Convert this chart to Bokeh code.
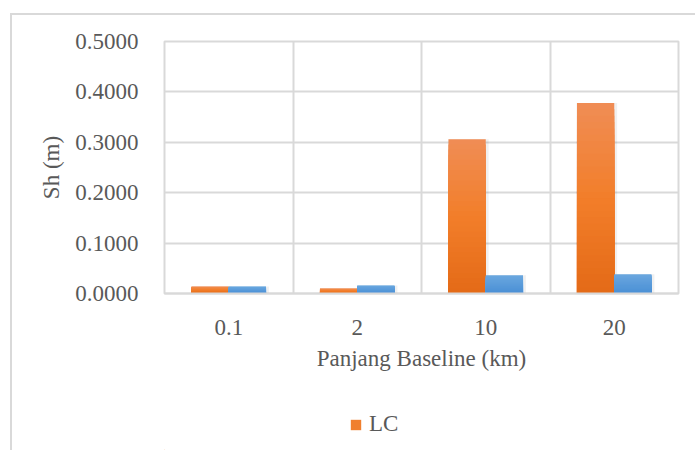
from bokeh.plotting import figure
from bokeh.layouts import column
from bokeh.models import (ColumnDataSource, FixedTicker, Legend, LegendItem,
                          NumeralTickFormatter)
from bokeh.embed import file_html
from bokeh.resources import INLINE

# ---- data ----
categories = ["0.1", "2", "10", "20"]
lc_values = [0.014, 0.010, 0.306, 0.378]
other_values = [0.014, 0.016, 0.036, 0.038]
y_ticks = [0.0, 0.1, 0.2, 0.3, 0.4, 0.5]
series_name = "LC"

FONT = "Liberation Serif"
TXT = "#595959"
GRID = "#d9d9d9"
FS = "23px"

p = figure(frame_width=512, frame_height=250, output_backend="svg", toolbar_location=None,
           x_range=(0, 4), y_range=(0, 0.5),
           min_border_left=152, min_border_right=19, min_border_top=26,
           min_border_bottom=100)
p.margin = (13, 0, 0, 10)
p.styles = {"border-left": "2px solid #d9d9d9", "border-top": "2px solid #d9d9d9"}
p.background_fill_color = "white"
p.border_fill_color = "white"
p.outline_line_color = GRID
p.outline_line_width = 2

xs = [i + 0.5 for i in range(len(categories))]

def hex_to_rgb(h):
    h = h.lstrip("#")
    return tuple(int(h[i:i + 2], 16) for i in (0, 2, 4))

def mix(c1, c2, t):
    a, b = hex_to_rgb(c1), hex_to_rgb(c2)
    return "#%02x%02x%02x" % tuple(round(a[i] + (b[i] - a[i]) * t) for i in range(3))

N = 30
def gradient_bars(values, offset, bottom_col, mid_col, top_col, width):
    rends = {}
    for k in reversed(range(N)):
        t = (k + 0.5) / N
        col = mix(bottom_col, mid_col, t / 0.5) if t < 0.5 else mix(mid_col, top_col, (t - 0.5) / 0.5)
        src = ColumnDataSource(dict(
            x=[x + offset for x in xs],
            top=[v * (k + 1) / N for v in values]))
        r = p.vbar(x="x", bottom=0, top="top", width=width, source=src,
                   fill_color=col, line_color=None)
        rends[k] = r
    return rends

bw = 0.29
# soft shadows
for vals, off in ((lc_values, -bw / 2), (other_values, bw / 2)):
    sh = ColumnDataSource(dict(x=[x + off + 0.01 for x in xs], top=vals))
    p.vbar(x="x", top="top", bottom=-0.003, width=bw + 0.025, source=sh,
           fill_color="#000000", fill_alpha=0.06, line_alpha=0)

lc_r = gradient_bars(lc_values, -bw / 2, "#e46a17", "#f27e2a", "#f08d55", bw)
ot_r = gradient_bars(other_values, bw / 2, "#4a8fd5", "#5a9bda", "#6ba7df", bw)

# axes
p.xaxis.ticker = FixedTicker(ticks=xs)
p.xaxis.major_label_overrides = {x: c for x, c in zip(xs, categories)}
p.xgrid.ticker = FixedTicker(ticks=[0, 1, 2, 3, 4])
p.yaxis.ticker = FixedTicker(ticks=y_ticks)
p.yaxis.formatter = NumeralTickFormatter(format="0.0000")

for ax in (p.xaxis, p.yaxis):
    ax.major_tick_line_color = None
    ax.minor_tick_line_color = None
    ax.major_label_text_font = FONT
    ax.major_label_text_font_size = FS
    ax.major_label_text_color = TXT
    ax.axis_label_text_font = FONT
    ax.axis_label_text_font_size = FS
    ax.axis_label_text_color = TXT
    ax.axis_label_text_font_style = "normal"

p.xaxis.axis_line_color = GRID
p.xaxis.axis_line_width = 2
p.yaxis.axis_line_color = None
p.xaxis.major_label_standoff = 20
p.yaxis.major_label_standoff = 20
p.xaxis.axis_label = "Panjang Baseline (km)"
p.yaxis.axis_label = "Sh (m)"
p.xaxis.axis_label_standoff = 8
p.yaxis.axis_label_standoff = 8

p.grid.grid_line_color = GRID
p.grid.grid_line_width = 2

# ---- legend strip below the chart ----
p2 = figure(width=683, height=59, output_backend="svg", toolbar_location=None,
            x_axis_location=None, y_axis_location=None,
            x_range=(0, 683), y_range=(0, 59),
            min_border=0, min_border_left=0, min_border_right=0,
            min_border_top=0, min_border_bottom=0)
p2.margin = (0, 0, 0, 10)
p2.styles = {"border-left": "2px solid #d9d9d9"}
p2.outline_line_color = None
p2.background_fill_color = "white"
p2.border_fill_color = "white"
p2.grid.visible = False
# legend key renderer (its single point lies outside the visible strip)
key_src = ColumnDataSource(dict(x=[-1000], top=[1]))
key_r = p2.vbar(x="x", top="top", width=1, source=key_src,
                fill_color="#f07f2e", line_color=None)
legend = Legend(items=[LegendItem(label=series_name, renderers=[key_r])],
                location=(185, 13), orientation="horizontal",
                border_line_color=None, margin=0, padding=5,
                background_fill_alpha=0, label_text_font=FONT,
                label_text_font_size=FS, label_text_color=TXT,
                glyph_width=13, glyph_height=13, label_standoff=7)
p2.add_layout(legend)

layout = column(p, p2, spacing=0)
open("out.html", "w").write(file_html(layout, INLINE))
